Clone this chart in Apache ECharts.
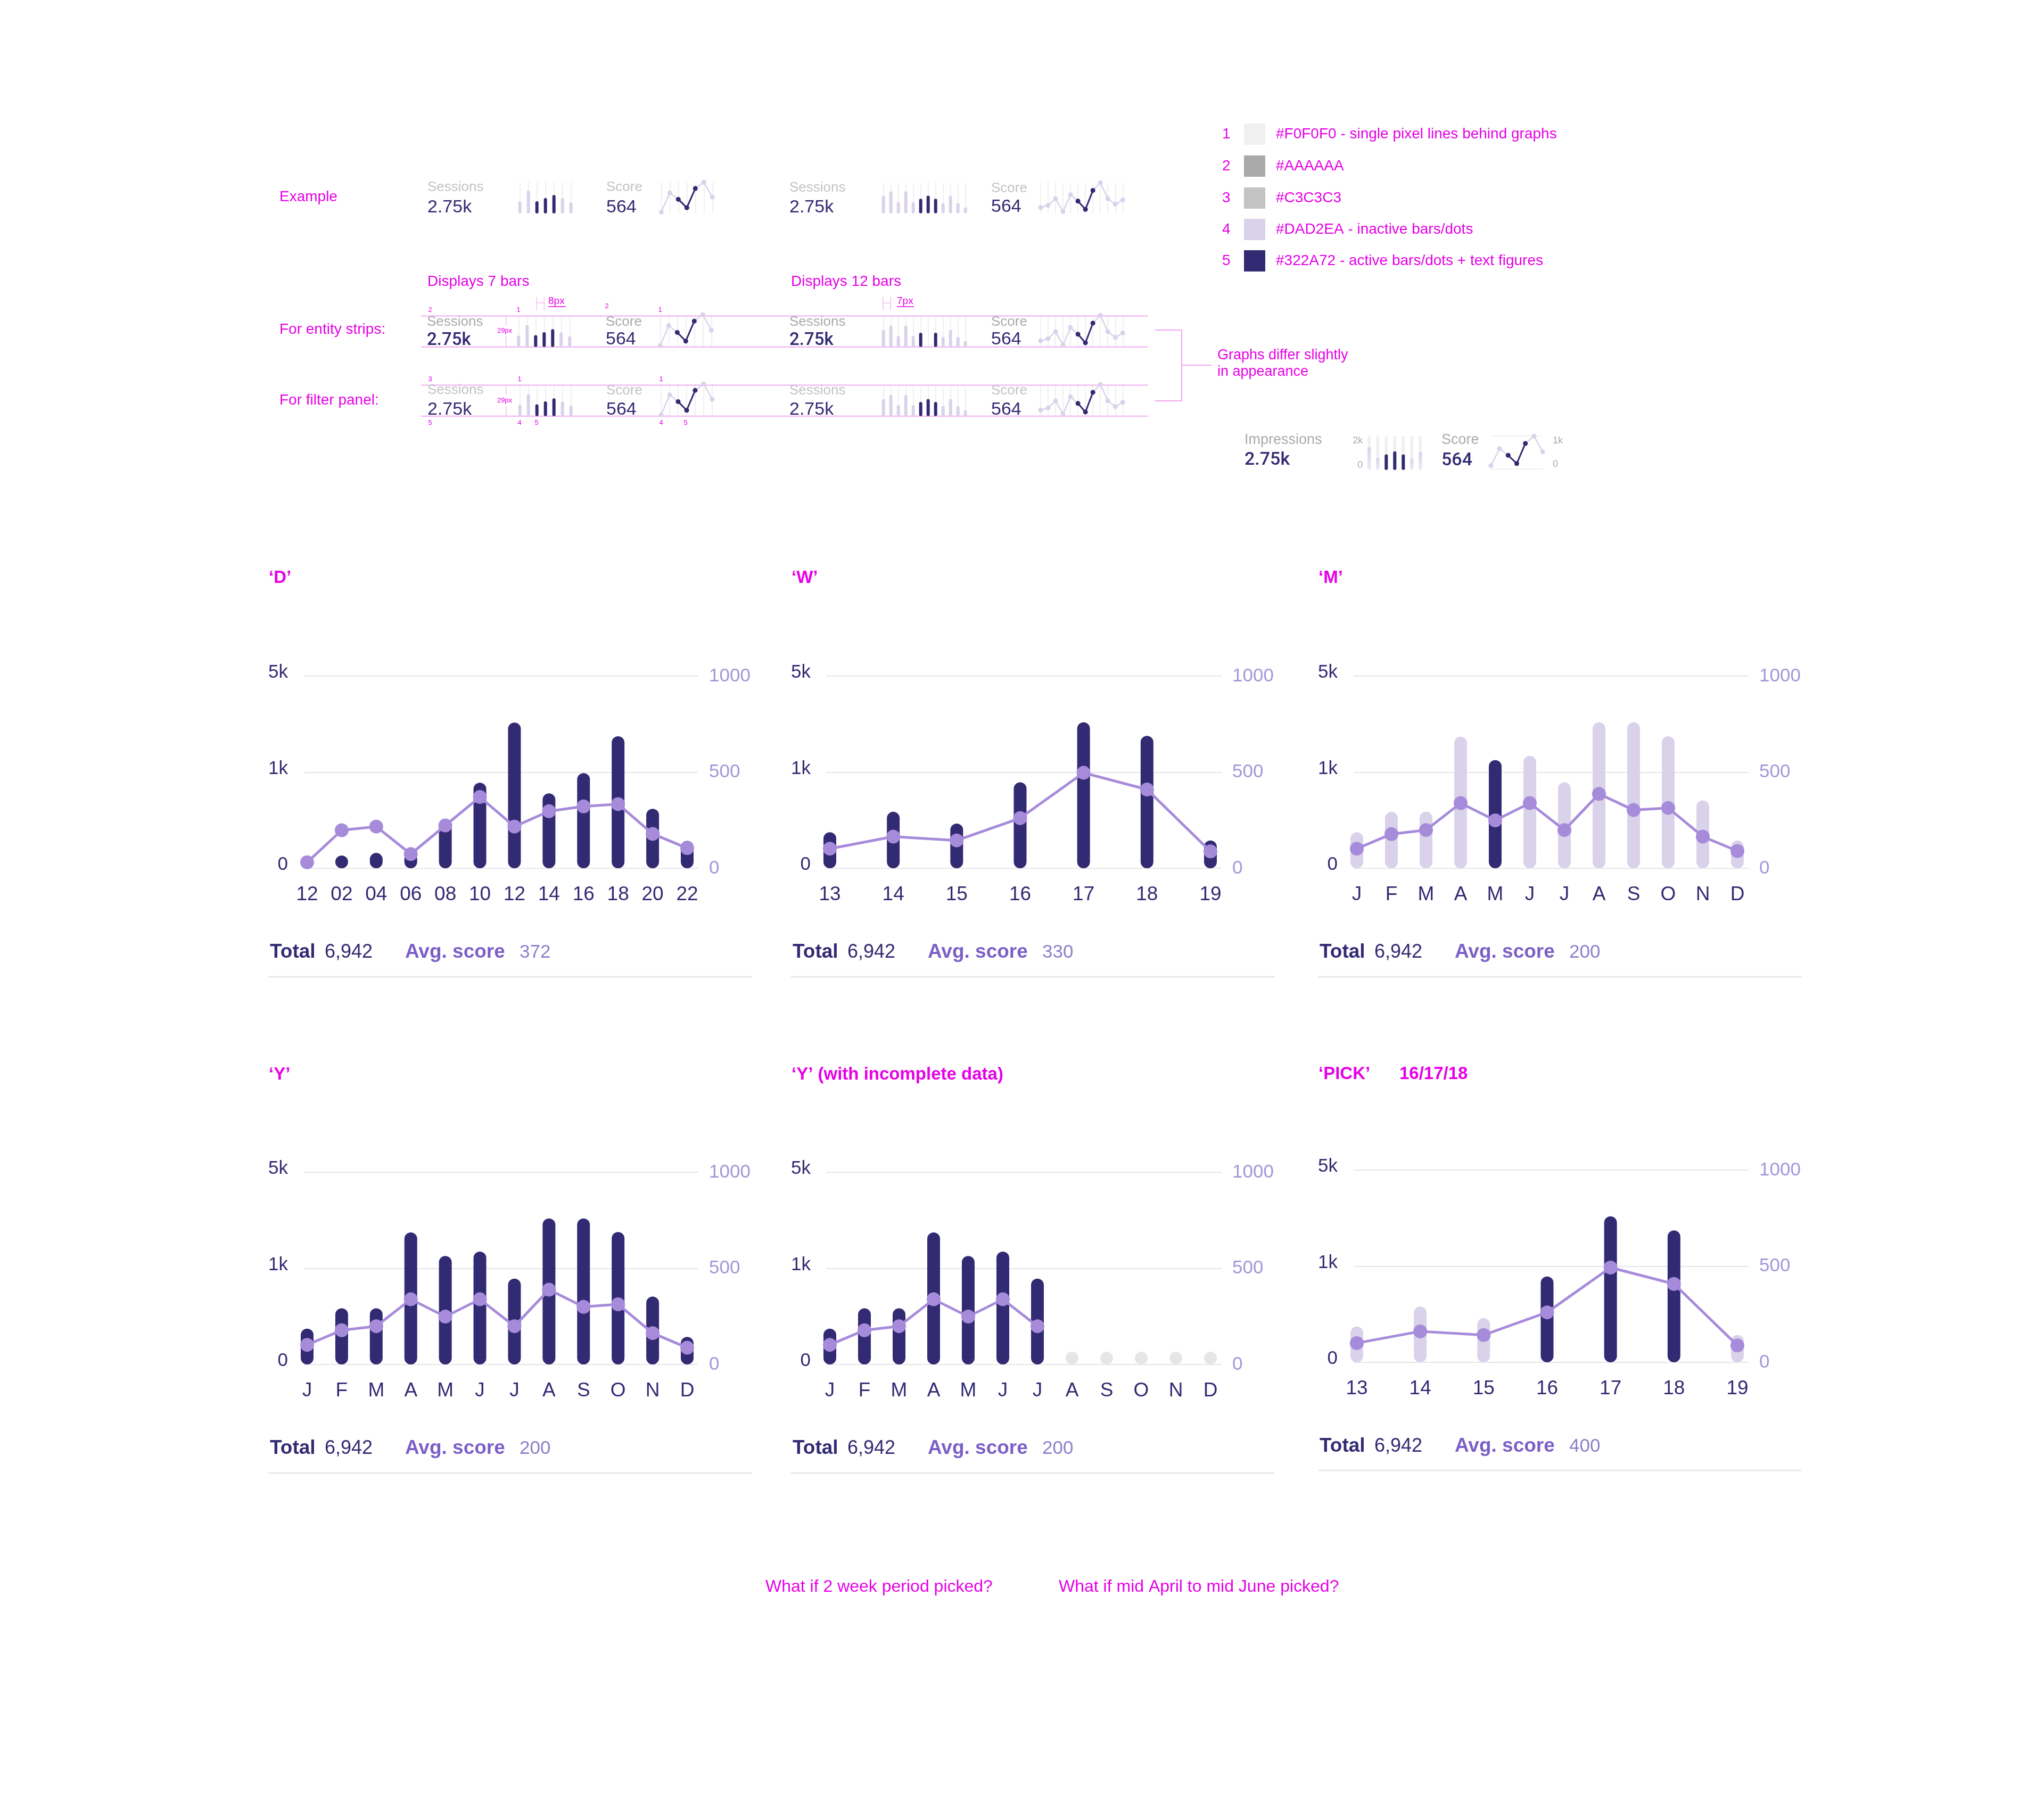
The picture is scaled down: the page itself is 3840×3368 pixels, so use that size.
<!DOCTYPE html>
<html>
<head>
<meta charset="utf-8">
<script src="https://cdn.jsdelivr.net/npm/echarts@6/dist/echarts.min.js"></script>
<style>
html,body{margin:0;padding:0;background:#ffffff;}
#chart{width:3840px;height:3368px;}
</style>
</head>
<body>
<div id="chart"></div>
<script>
// ---------------- DATA ----------------
const hourCats  = ['12','02','04','06','08','10','12','14','16','18','20','22'];
const dayCats   = ['13','14','15','16','17','18','19'];
const monthCats = ['J','F','M','A','M','J','J','A','S','O','N','D'];

// sessions (left axis: 0 / 1k / 5k) and score (right axis 0-1000)
const sessionTicks = [0, 1000, 5000];
const scoreTicks   = [0, 500, 1000];

const dSessions = [0, 20, 160, 160, 482, 891, 3069, 780, 990, 2496, 619, 285];
const dScore    = [31, 198, 217, 74, 223, 371, 217, 297, 322, 334, 179, 105];
const dActive   = [1,1,1,1,1,1,1,1,1,1,1,1];

const wSessions = [375, 588, 466, 895, 3080, 2515, 289];
const wScore    = [102, 165, 145, 261, 497, 410, 88];
const wActive   = [1,1,1,1,1,1,1];

const mSessions = [375, 588, 588, 2480, 1504, 1680, 895, 3080, 3080, 2496, 707, 289];
const mScore    = [102, 178, 199, 339, 249, 339, 199, 387, 303, 314, 165, 90];
const mActive   = [0,0,0,0,1,0,0,0,0,0,0,0];

const ySessions = [373, 584, 584, 2496, 1516, 1696, 894, 3080, 3080, 2512, 706, 287];
const yScore    = [102, 178, 199, 339, 249, 339, 199, 389, 300, 313, 163, 87];
const yActive   = [1,1,1,1,1,1,1,1,1,1,1,1];

const yIncSessions = [373, 584, 584, 2496, 1516, 1696, 894, null, null, null, null, null];
const yIncScore    = [102, 178, 199, 339, 249, 339, 199, null, null, null, null, null];
const yIncActive   = [1,1,1,1,1,1,1,0,0,0,0,0];

const pickSessions = [372, 580, 460, 894, 3080, 2488, 284];
const pickScore    = [100, 161, 142, 260, 493, 408, 88];
const pickActive   = [0,0,0,1,1,1,0];

const totals    = ['6,942','6,942','6,942','6,942','6,942','6,942'];
const avgScores = ['372','330','200','200','200','400'];

// mini strip graphs (percent of strip height)
const miniCats7  = ['1','2','3','4','5','6','7'];
const miniCats12 = ['1','2','3','4','5','6','7','8','9','10','11','12'];
const sevenBars   = [38, 73, 39, 49, 59, 49, 35];
const sevenBarsOn = [0,0,1,1,1,0,0];
const sevenScore  = [4, 66, 45, 18, 80, 100, 52];
const sevenScoreOn= [0,0,1,1,1,0,0];
const twelveBars  = [58, 72, 37, 72, 37, 48, 58, 48, 34, 58, 34, 20];
const twelveBarsEntity = [58, 72, 37, 72, 37, 48, null, 48, 34, 58, 34, 20];
const twelveBarsOn = [0,0,0,0,0,1,1,1,0,0,0,0];
const twelveScore  = [19, 26, 48, 6, 61, 40, 13, 75, 100, 48, 30, 44];
const twelveScoreOn= [0,0,0,0,0,1,1,1,0,0,0,0];

// impressions widget
const widgetBars    = [1340, 720, 920, 1100, 920, 660, 1060];
const widgetBarsOn  = [0,0,1,1,1,0,0];
const widgetScore   = [100, 610, 410, 160, 770, 990, 520];
const widgetScoreOn = [0,0,1,1,1,0,0];
const widgetBarTicks = [0, 2000];
const widgetScoreTicks = [0, 1000];

// ---------------- STYLE ----------------
const C = {
  dark:'#322A72', inactive:'#DAD2EA', line:'#A78BDB', thin:'#F0F0F0',
  magenta:'#E600E6', pink:'#F3BCF3', g2:'#AAAAAA', g3:'#C3C3C3',
  bigGrid:'#E6E6E6', rightLabel:'#A596DA', avgLabel:'#7B5FC7', avgValue:'#8F7FCB',
  empty:'#E6E6E6', rule:'#E3E3E3'
};
const FONT = '"Liberation Sans", Arial, sans-serif';

const grids = [], xAxis = [], yAxis = [], series = [], graphic = [];

function kfmt(v){ return v >= 1000 ? (v/1000) + 'k' : String(v); }
function sessionPos(v){
  const lo = sessionTicks[1], hi = sessionTicks[2];
  return v <= lo ? v / lo * 500 : 500 + (v - lo) / (hi - lo) * 500;
}
const leftLabel = {};
sessionTicks.forEach(t => { leftLabel[sessionPos(t)] = kfmt(t); });

function addGrid(l, t, r, b){
  grids.push({left:l, top:t, width:r-l, height:b-t, containLabel:false, outerBoundsMode:'none'});
  return grids.length - 1;
}

function txt(text, x, y, size, color, weight, family, align){
  graphic.push({type:'text', silent:true, z:20, style:{
    text:text, x:x, y:y, fill:color,
    font:(weight||'normal') + ' ' + size + 'px ' + (family||FONT),
    align:align||'left', verticalAlign:'middle',
    textAlign:align||'left', textVerticalAlign:'middle'
  }});
}
function ln(x1, y1, x2, y2, color, w){
  graphic.push({type:'line', silent:true, z:1, shape:{x1:x1,y1:y1,x2:x2,y2:y2}, style:{stroke:color, lineWidth:w}});
}
function rect(x, y, w, h, color){
  graphic.push({type:'rect', silent:true, z:1, shape:{x:x,y:y,width:w,height:h}, style:{fill:color}});
}

// ---------- mini bar strip ----------
function miniBars(cats, vals, on, l, r, t, b, opt){
  opt = opt || {};
  const gi = addGrid(l, t, r, b);
  xAxis.push({gridIndex:gi, type:'category', data:cats, boundaryGap:false,
    axisLine:{show:false}, axisTick:{show:false}, axisLabel:{show:false},
    splitLine:{show:!opt.tracks, interval:0, lineStyle:{color:C.thin, width:2}}});
  const xi = xAxis.length - 1;
  const max = opt.max || 100;
  yAxis.push({gridIndex:gi, type:'value', min:0, max:max, interval:max, show:!!opt.labels,
    position:'left', axisLine:{show:false}, axisTick:{show:false}, splitLine:{show:false},
    axisLabel:{show:!!opt.labels, color:C.g2, fontSize:18, fontFamily:FONT, margin:12,
      formatter:kfmt, verticalAlignMaxLabel:'top', verticalAlignMinLabel:'bottom'}});
  const yi = yAxis.length - 1;
  const fade = {type:'linear', x:0, y:0, x2:0, y2:1,
    colorStops:[{offset:0, color:'#D8CFEA'}, {offset:1, color:'#EFEBF6'}]};
  series.push({type:'bar', xAxisIndex:xi, yAxisIndex:yi, barWidth:6, clip:false,
    showBackground:!!opt.tracks, backgroundStyle:{color:C.thin, borderRadius:3},
    data: vals.map((v,i) => ({value:v, itemStyle:{color: on[i] ? C.dark : (opt.tracks ? fade : C.inactive), borderRadius:3}}))});
}

// ---------- mini line strip ----------
function miniLine(cats, vals, on, l, r, t, b, opt){
  opt = opt || {};
  const gi = addGrid(l, t, r, b);
  xAxis.push({gridIndex:gi, type:'category', data:cats, boundaryGap:false,
    axisLine:{show:false}, axisTick:{show:false}, axisLabel:{show:false},
    splitLine:{show:!opt.hlines, interval:0, lineStyle:{color:C.thin, width:2}}});
  const xi = xAxis.length - 1;
  const max = opt.max || 100;
  yAxis.push({gridIndex:gi, type:'value', min:0, max:max, interval:max, position:'right',
    show: !!(opt.hlines || opt.labels),
    axisLine:{show:false}, axisTick:{show:false},
    splitLine:{show:!!opt.hlines, lineStyle:{color:C.thin, width:2}},
    axisLabel:{show:!!opt.labels, color:C.g2, fontSize:18, fontFamily:FONT, margin:19,
      formatter:kfmt, verticalAlignMaxLabel:'top', verticalAlignMinLabel:'bottom'}});
  const yi = yAxis.length - 1;
  series.push({type:'line', xAxisIndex:xi, yAxisIndex:yi, data:vals, clip:false, z:3,
    symbol:'circle', symbolSize:9, showAllSymbol:true,
    lineStyle:{color:C.inactive, width:2.5}, itemStyle:{color:C.inactive}});
  series.push({type:'line', xAxisIndex:xi, yAxisIndex:yi, data:vals.map((v,i) => on[i] ? v : null),
    clip:false, z:4, connectNulls:false, symbol:'circle', symbolSize:9, showAllSymbol:true,
    lineStyle:{color:C.dark, width:3}, itemStyle:{color:C.dark}});
}

// ---------- big chart ----------
function bigChart(cfg){
  const GL = cfg.GL, GR = cfg.GR, GT = cfg.GT, GB = cfg.GB;
  // grid carrying the axes + gridlines
  const ga = addGrid(GL, GT, GR, GB);
  xAxis.push({gridIndex:ga, type:'category', data:cfg.cats, show:false});
  yAxis.push({gridIndex:ga, type:'value', position:'left', min:0, max:1000, interval:500,
    axisLine:{show:false}, axisTick:{show:false},
    splitLine:{show:true, lineStyle:{color:C.bigGrid, width:2}},
    axisLabel:{color:C.dark, fontSize:35, fontFamily:FONT, margin:30,
      verticalAlign:'bottom', lineHeight:13,
      formatter: v => leftLabel[v] !== undefined ? leftLabel[v] : ''}});
  yAxis.push({gridIndex:ga, type:'value', position:'right', min:0, max:1000, interval:500,
    axisLine:{show:false}, axisTick:{show:false}, splitLine:{show:false},
    axisLabel:{color:C.rightLabel, fontSize:35, fontFamily:FONT, margin:20,
      formatter: v => scoreTicks.indexOf(v) >= 0 ? String(v) : ''}});
  // data grid (category positions)
  const gb = addGrid(GL + 6, GT, GR - 21, GB);
  xAxis.push({gridIndex:gb, type:'category', data:cfg.cats, boundaryGap:false,
    axisLine:{show:false}, axisTick:{show:false}, splitLine:{show:false},
    axisLabel:{color:C.dark, fontSize:37, fontFamily:FONT, margin:31, interval:0}});
  const xi = xAxis.length - 1;
  yAxis.push({gridIndex:gb, type:'value', min:0, max:1000, show:false});
  const yi = yAxis.length - 1;
  series.push({type:'bar', xAxisIndex:xi, yAxisIndex:yi, barWidth:24, barMinHeight:24, clip:false, z:2,
    data: cfg.sessions.map((v,i) => {
      if (v === null) return {value:0, itemStyle:{color:C.empty, borderRadius:12}};
      return {value:sessionPos(v), itemStyle:{color: cfg.active[i] ? C.dark : C.inactive, borderRadius:12}};
    })});
  series.push({type:'line', xAxisIndex:xi, yAxisIndex:yi, data:cfg.score, clip:false, z:3,
    connectNulls:false, symbol:'circle', symbolSize:26, showAllSymbol:true,
    lineStyle:{color:C.line, width:5}, itemStyle:{color:C.line}});

  // title + footer
  const L = cfg.textL;
  txt(cfg.title, L - 2, cfg.titleY, 33, C.magenta, 'bold');
  if (cfg.subtitle) txt(cfg.subtitle, cfg.subtitleX, cfg.titleY, 33, C.magenta, 'bold');
  txt('Total', L, cfg.footY, 37, C.dark, 'bold');
  txt(cfg.total, L + 103, cfg.footY, 36, C.dark);
  txt('Avg. score', L + 254, cfg.footY, 37, C.avgLabel, 'bold');
  txt(cfg.avg, L + 469, cfg.footY, 35, C.avgValue);
  ln(L - 3, cfg.ruleY, L + 905, cfg.ruleY, C.rule, 2.5);
}

// ---------------- TOP SECTION ----------------
// section labels
txt('Example', 525, 370, 28, C.magenta);
txt('Displays 7 bars', 803, 529, 28, C.magenta);
txt('Displays 12 bars', 1486, 529, 28, C.magenta);
txt('For entity strips:', 525, 619, 28, C.magenta);
txt('For filter panel:', 525, 752, 28, C.magenta);

// strip guide lines
[593.5, 651.7, 723.5, 781.7].forEach(y => ln(791, y, 2156, y, C.pink, 2.5));
// 29px height markers
ln(950.7, 594, 950.7, 611, C.pink, 1.5); ln(950.7, 631, 950.7, 652, C.pink, 1.5);
ln(950.7, 724, 950.7, 741, C.pink, 1.5); ln(950.7, 762, 950.7, 782, C.pink, 1.5);
txt('29px', 948, 621, 13, C.magenta, 'normal', FONT, 'center');
txt('29px', 948, 752, 13, C.magenta, 'normal', FONT, 'center');
// 8px / 7px spacing markers
ln(1008.3, 557, 1008.3, 583, C.pink, 1.5); ln(1022.3, 557, 1022.3, 583, C.pink, 1.5); ln(1008.3, 569, 1022.3, 569, C.pink, 1.5);
txt('8px', 1030, 566, 19, C.magenta); ln(1030, 576, 1063, 576, C.magenta, 1.5);
ln(1659, 557, 1659, 583, C.pink, 1.5); ln(1673.3, 557, 1673.3, 583, C.pink, 1.5); ln(1659, 569, 1673.3, 569, C.pink, 1.5);
txt('7px', 1685, 566, 19, C.magenta); ln(1685, 576, 1717, 576, C.magenta, 1.5);
// colour reference numbers
[['2',808,582],['1',974,582],['2',1140,575],['1',1240,582],
 ['3',808,712],['1',976,712],['1',1242,712],
 ['5',808,794],['4',976,794],['5',1008,794],['4',1242,794],['5',1288,794]]
 .forEach(a => txt(a[0], a[1], a[2], 13, C.magenta, 'normal', FONT, 'center'));

// bracket + note
ln(2170, 620, 2220, 620, '#F2A6F2', 2); ln(2220, 620, 2220, 753, '#F2A6F2', 2);
ln(2170, 753, 2220, 753, '#F2A6F2', 2); ln(2220, 686, 2276, 686, '#F2A6F2', 2);
txt('Graphs differ slightly', 2287, 668, 27, C.magenta);
txt('in appearance', 2287, 699, 27, C.magenta);

// colour legend
const legendRows = [
  ['1', '#F0F0F0', '#F0F0F0 - single pixel lines behind graphs'],
  ['2', '#AAAAAA', '#AAAAAA'],
  ['3', '#C3C3C3', '#C3C3C3'],
  ['4', '#DAD2EA', '#DAD2EA - inactive bars/dots'],
  ['5', '#322A72', '#322A72 - active bars/dots + text figures']
];
const legendY = [252, 312, 372, 431, 490];
legendRows.forEach((r, i) => {
  txt(r[0], 2296, legendY[i], 28, C.magenta);
  rect(2337, legendY[i] - 20, 40, 40, r[1]);
  txt(r[2], 2397, legendY[i], 28, C.magenta);
});

// strip text figures
function stripText(x, yl, yv, labelColor, value, bold){
  txt(x.label, x.x, yl, 26, labelColor);
  txt(value, x.x, yv, bold ? 33 : 34, C.dark, bold ? '500' : 'normal', bold ? 'Roboto' : FONT);
}
// example row
stripText({label:'Sessions', x:803}, 352, 390, C.g3, '2.75k');
stripText({label:'Score', x:1139}, 352, 390, C.g3, '564');
stripText({label:'Sessions', x:1483}, 353, 390, C.g3, '2.75k');
stripText({label:'Score', x:1862}, 354, 389, C.g3, '564');
// entity strips
stripText({label:'Sessions', x:802}, 605, 640, C.g2, '2.75k', true);
stripText({label:'Score', x:1138}, 605, 638, C.g2, '564');
stripText({label:'Sessions', x:1483}, 605, 640, C.g2, '2.75k', true);
stripText({label:'Score', x:1862}, 605, 638, C.g2, '564');
// filter panel
stripText({label:'Sessions', x:803}, 733, 769.5, C.g3, '2.75k');
stripText({label:'Score', x:1139}, 734, 769.5, C.g3, '564');
stripText({label:'Sessions', x:1483}, 734, 769.5, C.g3, '2.75k');
stripText({label:'Score', x:1862}, 734, 769.5, C.g3, '564');

// example row graphs
miniBars(miniCats7, sevenBars, sevenBarsOn, 976.7, 1072.7, 342, 401);
miniLine(miniCats7, sevenScore, sevenScoreOn, 1242.3, 1338.3, 342.3, 400.7);
miniBars(miniCats12, twelveBars, twelveBarsOn, 1659.7, 1813.7, 343.3, 400.7);
miniLine(miniCats12, twelveScore, twelveScoreOn, 1955, 2109.3, 343.3, 400.7);
// entity strips
miniBars(miniCats7, sevenBars, sevenBarsOn, 974.3, 1070.3, 595, 651.7);
miniLine(miniCats7, sevenScore, sevenScoreOn, 1240.3, 1336.3, 591, 651.7);
miniBars(miniCats12, twelveBarsEntity, twelveBarsOn, 1659.7, 1813.7, 596, 651.7);
miniLine(miniCats12, twelveScore, twelveScoreOn, 1955, 2109.3, 592, 651.7);
// filter panel
miniBars(miniCats7, sevenBars, sevenBarsOn, 976.7, 1072.7, 725, 781.7);
miniLine(miniCats7, sevenScore, sevenScoreOn, 1242, 1338, 721, 781.7);
miniBars(miniCats12, twelveBars, twelveBarsOn, 1659.7, 1813.7, 726, 781.7);
miniLine(miniCats12, twelveScore, twelveScoreOn, 1955, 2109.3, 722, 781.7);

// impressions widget
txt('Impressions', 2338, 827, 27, C.g2);
txt('2.75k', 2338, 864.5, 34, C.dark, '500', 'Roboto');
txt('Score', 2708, 826.5, 27, C.g2);
txt('564', 2708, 865, 34, C.dark, '500', 'Roboto');
miniBars(miniCats7, widgetBars, widgetBarsOn, 2572.3, 2668.3, 819, 882.7,
  {tracks:true, labels:true, max:widgetBarTicks[1]});
miniLine(miniCats7, widgetScore, widgetScoreOn, 2801, 2898, 818.7, 880.7,
  {hlines:true, labels:true, max:widgetScoreTicks[1]});

// ---------------- BIG CHARTS ----------------
const colL  = [571, 1553, 2543];
const colR  = [1312, 2295, 3285];
const textL = [507, 1489, 2479];

bigChart({cats:hourCats, sessions:dSessions, score:dScore, active:dActive,
  GL:colL[0], GR:colR[0], GT:1270, GB:1631, textL:textL[0], title:'‘D’', titleY:1086,
  footY:1789, ruleY:1835, total:totals[0], avg:avgScores[0]});
bigChart({cats:dayCats, sessions:wSessions, score:wScore, active:wActive,
  GL:colL[1], GR:colR[1], GT:1270, GB:1631, textL:textL[1], title:'‘W’', titleY:1086,
  footY:1789, ruleY:1835, total:totals[1], avg:avgScores[1]});
bigChart({cats:monthCats, sessions:mSessions, score:mScore, active:mActive,
  GL:colL[2], GR:colR[2], GT:1270, GB:1631, textL:textL[2], title:'‘M’', titleY:1086,
  footY:1789, ruleY:1835, total:totals[2], avg:avgScores[2]});
bigChart({cats:monthCats, sessions:ySessions, score:yScore, active:yActive,
  GL:colL[0], GR:colR[0], GT:2202, GB:2563, textL:textL[0], title:'‘Y’', titleY:2019,
  footY:2721, ruleY:2767, total:totals[3], avg:avgScores[3]});
bigChart({cats:monthCats, sessions:yIncSessions, score:yIncScore, active:yIncActive,
  GL:colL[1], GR:colR[1], GT:2202, GB:2563, textL:textL[1], title:'‘Y’ (with incomplete data)', titleY:2019,
  footY:2721, ruleY:2767, total:totals[4], avg:avgScores[4]});
bigChart({cats:dayCats, sessions:pickSessions, score:pickScore, active:pickActive,
  GL:colL[2], GR:colR[2], GT:2198, GB:2559, textL:textL[2], title:'‘PICK’', titleY:2018,
  subtitle:'16/17/18', subtitleX:2629,
  footY:2717, ruleY:2762, total:totals[5], avg:avgScores[5]});

// bottom questions
txt('What if 2 week period picked?', 1438, 2981, 32, C.magenta);
txt('What if mid April to mid June picked?', 1989, 2981, 32, C.magenta);

// ---------------- RENDER ----------------
const chart = echarts.init(document.getElementById('chart'), null, {renderer:'canvas', width:3840, height:3368});
chart.setOption({
  backgroundColor:'#ffffff',
  animation:false,
  textStyle:{fontFamily:FONT},
  tooltip:{show:false},
  grid:grids, xAxis:xAxis, yAxis:yAxis, series:series,
  graphic:graphic
});
</script>
</body>
</html>
